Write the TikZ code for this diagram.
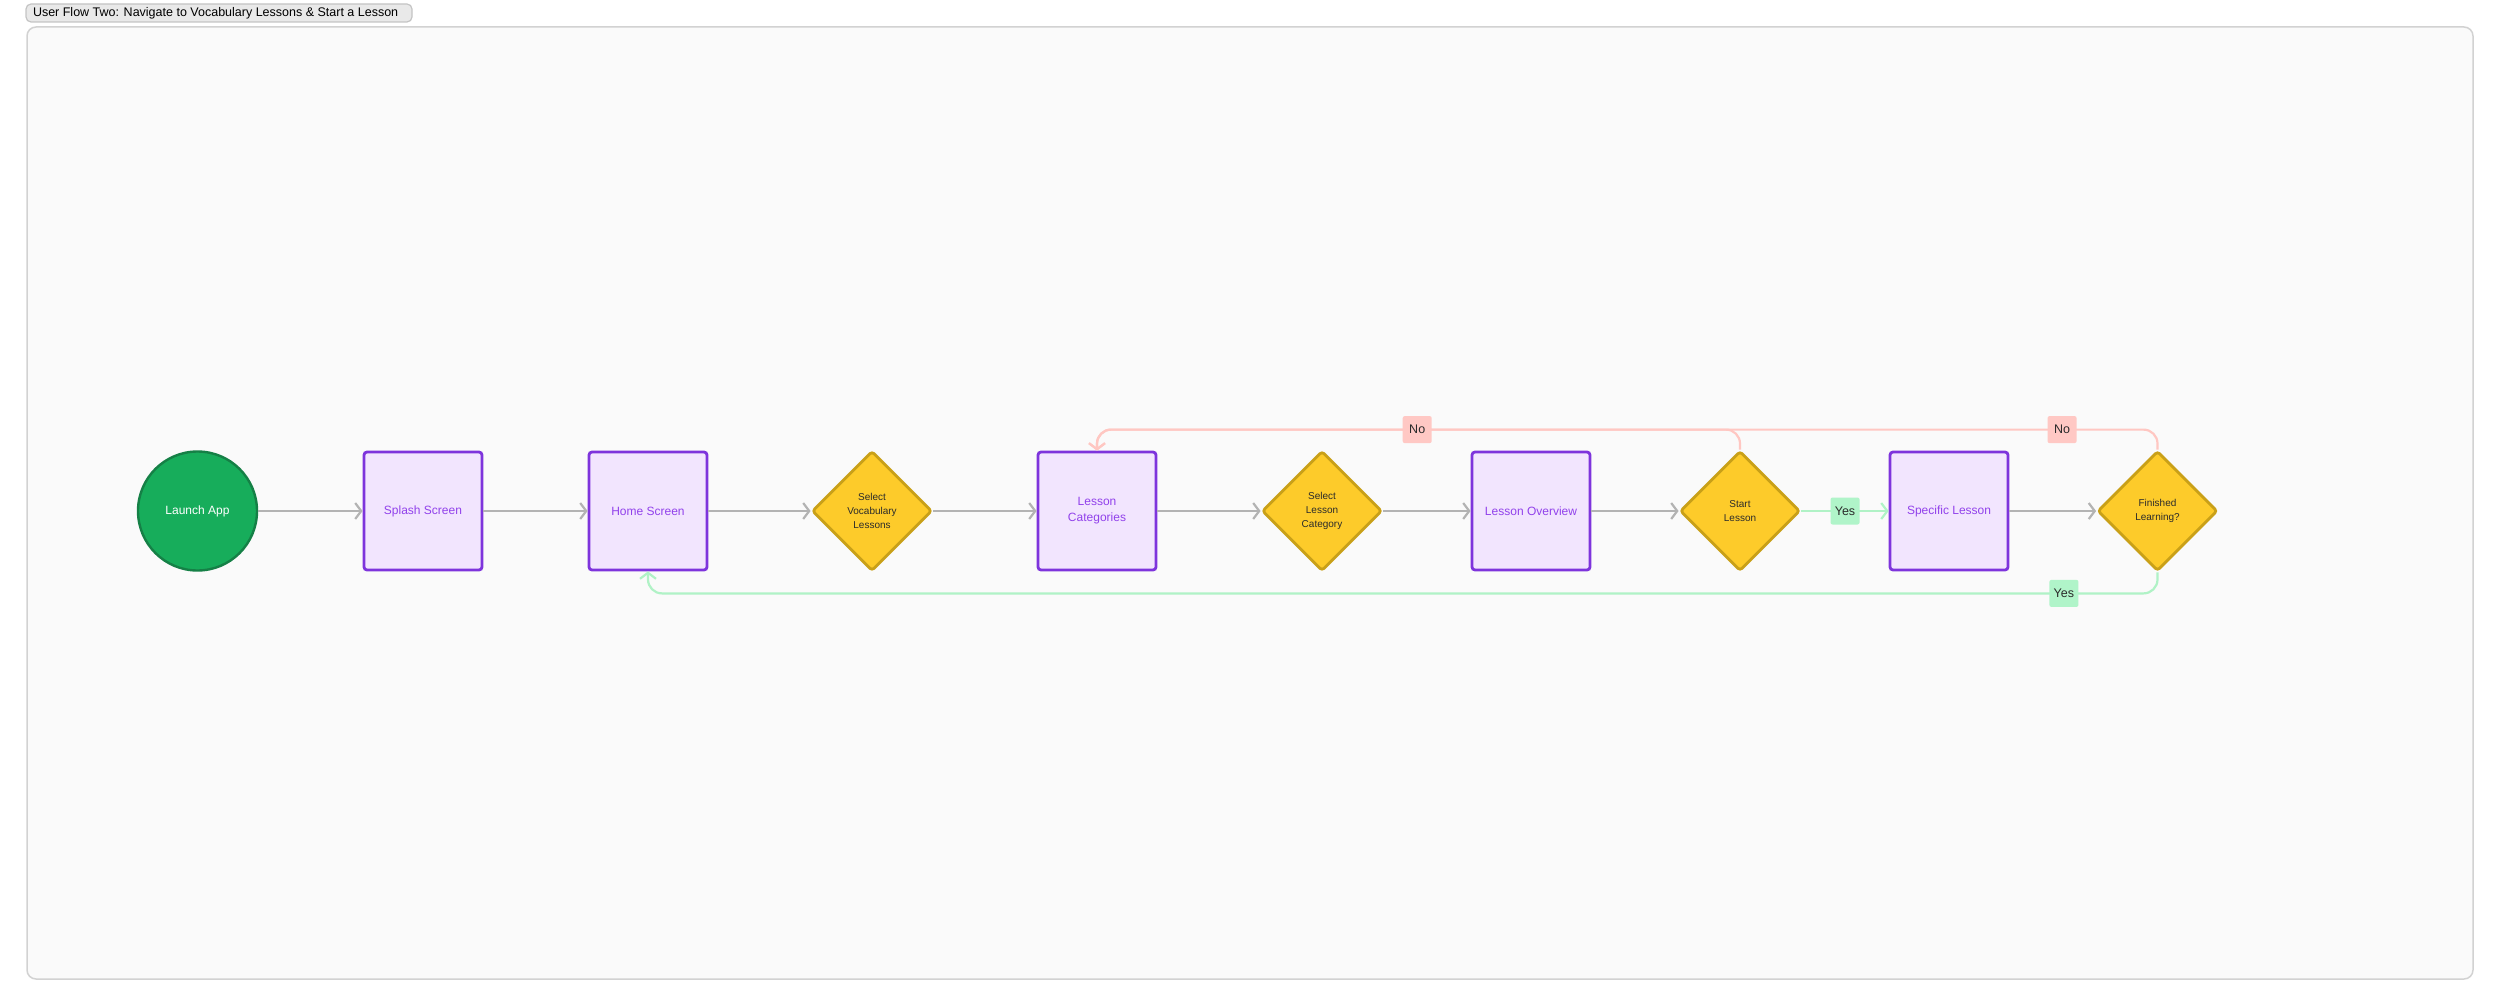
\documentclass[tikz,border=0pt]{standalone}
\usepackage{fontspec}
\setmainfont{Liberation Sans}
\usetikzlibrary{arrows.meta, positioning, shapes.geometric}
\definecolor{cframe}{HTML}{FAFAFA}
\definecolor{cframeline}{HTML}{D2D2D2}
\definecolor{ctab}{HTML}{E9E9E9}
\definecolor{ctabline}{HTML}{C4C4C4}
\definecolor{cgreen}{HTML}{17AD5B}
\definecolor{cgreendark}{HTML}{158046}
\definecolor{cpurple}{HTML}{7E34DC}
\definecolor{cpurplebg}{HTML}{F2E5FE}
\definecolor{cpurpletext}{HTML}{9141EB}
\definecolor{cyellow}{HTML}{FDCB2A}
\definecolor{cyellowdark}{HTML}{C9A018}
\definecolor{cgreyline}{HTML}{B3B3B3}
\definecolor{cnoline}{HTML}{FFC7C2}
\definecolor{cnotag}{HTML}{FFC8C4}
\definecolor{cyesline}{HTML}{B0F2C6}
\definecolor{cyestag}{HTML}{B0F4C9}
\definecolor{ctext}{HTML}{2B2B2B}
\tikzset{
  every picture/.style={font=\rmfamily, line width=2pt},
  launch/.style={circle, draw=cgreendark, fill=cgreen, text=white, minimum size=119pt, inner sep=0pt, line width=2.4pt, font=\fontsize{12}{15}\selectfont},
  screen/.style={draw=cpurple, fill=cpurplebg, text=cpurpletext, rounded corners=3pt, minimum width=118pt, minimum height=118pt, inner sep=2pt, line width=2.8pt, align=center, font=\fontsize{12}{16}\selectfont},
  decision/.style={diamond, aspect=1, draw=cyellowdark, fill=cyellow, text=ctext, minimum width=120pt, minimum height=120pt, inner sep=0pt, rounded corners=3pt, line width=2.8pt, align=center, font=\fontsize{10}{14}\selectfont},
  flow/.style={-{Straight Barb[length=6pt, width=16pt]}, draw=cgreyline, line width=2.2pt},
  yesflow/.style={flow, draw=cyesline, rounded corners=14pt},
  noflow/.style={flow, draw=cnoline, rounded corners=14pt},
  tag/.style={fill=#1, rounded corners=2pt, minimum width=29pt, minimum height=27pt, inner sep=2pt, text=ctext, font=\fontsize{12.5}{14}\selectfont},
}

\begin{document}
\begin{tikzpicture}[x=1pt, y=-1pt]
  \useasboundingbox (0,0) rectangle (2500,1006);
  \draw[fill=cframe, draw=cframeline, line width=1.5pt, rounded corners=9pt] (27,27) rectangle (2473,979);
  \draw[fill=ctab, draw=ctabline, line width=1.2pt, rounded corners=5pt] (26,4) rectangle (412,22);
  \node[anchor=west, inner sep=0pt, font=\fontsize{12.5}{14}\selectfont] (title) at (32,13) {User Flow Two: Navigate to Vocabulary Lessons \& Start a Lesson};
  % main row
  \node[launch] (launch) at (197.5,511) {Launch App};
  \node[screen] (splash) at (423,511) {Splash Screen};
  \node[screen] (home) at (648,511) {Home Screen};
  \node[decision] (vocab) at (872,511) {Select\\Vocabulary\\Lessons};
  \node[screen] (cats) at (1097,511) {Lesson\\Categories};
  \node[decision] (selcat) at (1322,511) {Select\\Lesson\\Category};
  \node[screen] (overview) at (1531,511) {Lesson Overview};
  \node[decision] (startl) at (1740,511) {Start\\Lesson};
  \node[screen] (specific) at (1949,511) {Specific Lesson};
  \node[decision] (finished) at (2157.5,511) {Finished\\Learning?};
  \draw[flow] (launch) -- (splash);
  \draw[flow] (splash) -- (home);
  \draw[flow] (home) -- (vocab);
  \draw[flow] (vocab) -- (cats);
  \draw[flow] (cats) -- (selcat);
  \draw[flow] (selcat) -- (overview);
  \draw[flow] (overview) -- (startl);
  \draw[flow, draw=cyesline] (startl) -- node[tag=cyestag] (yes1) {Yes} (specific);
  \draw[flow] (specific) -- (finished);
  % loops back
  \draw[noflow] (finished.north) -- ++(0,-20) -| node[tag=cnotag, pos=0.045] (no2) {No} (cats.north);
  \draw[noflow] (startl.north) -- ++(0,-20) -| node[tag=cnotag, pos=0.251] (no1) {No} (cats.north);
  \draw[yesflow] (finished.south) -- ++(0,21) -| node[tag=cyestag, pos=0.031] (yes2) {Yes} (home.south);
\end{tikzpicture}
\end{document}
